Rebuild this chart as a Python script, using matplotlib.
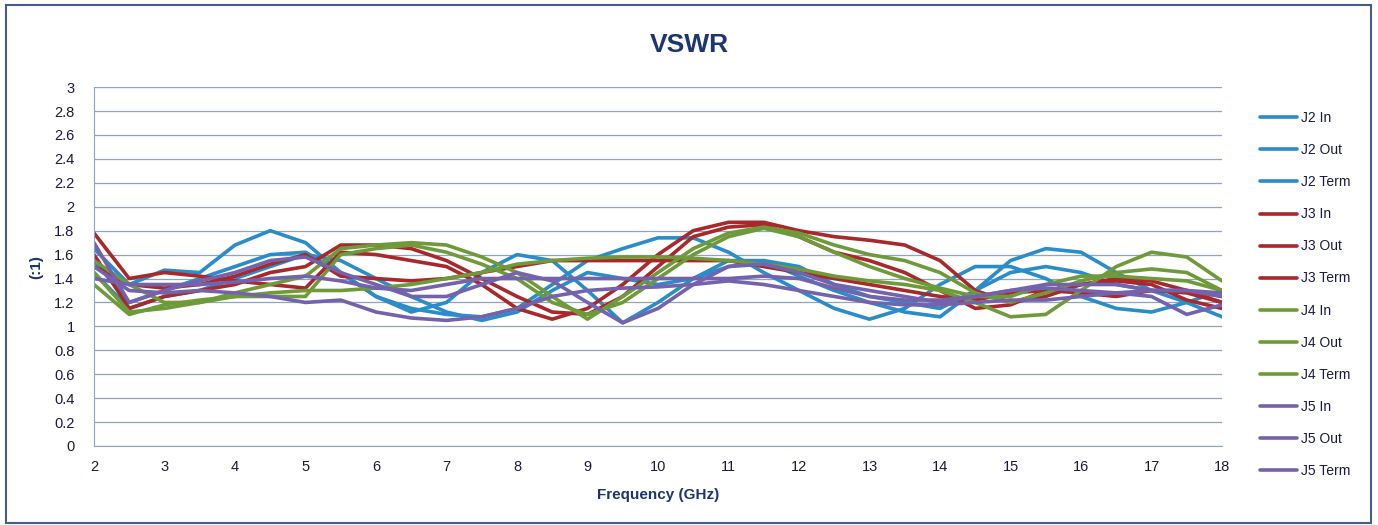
import numpy as np
import matplotlib
matplotlib.use("Agg")
import matplotlib.pyplot as plt
from matplotlib.patches import Rectangle

plt.rcParams['font.family'] = ['Liberation Sans', 'DejaVu Sans']

# frequency grid (GHz)
freq = np.arange(2.0, 18.01, 0.5)

# VSWR, one value per 0.5 GHz
j2_in = [1.65, 1.35, 1.47, 1.45, 1.68, 1.80, 1.70, 1.45, 1.25, 1.15, 1.10, 1.08, 1.15, 1.35, 1.55, 1.65,
         1.74, 1.74, 1.62, 1.45, 1.30, 1.15, 1.06, 1.15, 1.35, 1.50, 1.50, 1.40, 1.25, 1.15, 1.12, 1.20, 1.30]
j2_out = [1.55, 1.20, 1.30, 1.40, 1.50, 1.60, 1.62, 1.45, 1.25, 1.12, 1.20, 1.45, 1.60, 1.55, 1.30, 1.03,
          1.20, 1.40, 1.55, 1.55, 1.42, 1.30, 1.20, 1.12, 1.08, 1.30, 1.55, 1.65, 1.62, 1.45, 1.30, 1.20, 1.08]
j2_term = [1.45, 1.15, 1.25, 1.30, 1.40, 1.50, 1.60, 1.55, 1.40, 1.25, 1.12, 1.05, 1.12, 1.30, 1.45, 1.40,
           1.35, 1.40, 1.50, 1.55, 1.50, 1.35, 1.25, 1.20, 1.15, 1.30, 1.45, 1.50, 1.45, 1.35, 1.30, 1.30, 1.25]
j3_in = [1.78, 1.40, 1.45, 1.42, 1.38, 1.35, 1.32, 1.62, 1.60, 1.55, 1.50, 1.35, 1.15, 1.06, 1.15, 1.35,
         1.60, 1.80, 1.87, 1.87, 1.80, 1.75, 1.72, 1.68, 1.55, 1.30, 1.20, 1.25, 1.35, 1.40, 1.38, 1.30, 1.20]
j3_out = [1.60, 1.15, 1.25, 1.30, 1.35, 1.45, 1.50, 1.68, 1.68, 1.65, 1.55, 1.40, 1.25, 1.12, 1.10, 1.25,
          1.50, 1.75, 1.83, 1.85, 1.75, 1.62, 1.55, 1.45, 1.30, 1.15, 1.18, 1.30, 1.35, 1.38, 1.35, 1.22, 1.15]
j3_term = [1.50, 1.35, 1.32, 1.35, 1.42, 1.52, 1.60, 1.42, 1.40, 1.38, 1.40, 1.45, 1.50, 1.55, 1.55, 1.55,
           1.55, 1.55, 1.55, 1.50, 1.45, 1.40, 1.35, 1.30, 1.25, 1.22, 1.28, 1.30, 1.28, 1.25, 1.30, 1.28, 1.20]
j4_in = [1.35, 1.10, 1.18, 1.22, 1.25, 1.28, 1.30, 1.30, 1.32, 1.35, 1.40, 1.45, 1.52, 1.55, 1.57, 1.58,
         1.58, 1.57, 1.55, 1.52, 1.48, 1.42, 1.38, 1.35, 1.30, 1.20, 1.08, 1.10, 1.30, 1.50, 1.62, 1.58, 1.38]
j4_out = [1.55, 1.35, 1.20, 1.20, 1.28, 1.35, 1.42, 1.65, 1.68, 1.70, 1.68, 1.58, 1.45, 1.25, 1.06, 1.25,
          1.45, 1.65, 1.78, 1.83, 1.78, 1.68, 1.60, 1.55, 1.45, 1.28, 1.20, 1.28, 1.38, 1.45, 1.48, 1.45, 1.30]
j4_term = [1.45, 1.12, 1.15, 1.20, 1.25, 1.25, 1.25, 1.60, 1.65, 1.68, 1.62, 1.52, 1.40, 1.20, 1.10, 1.20,
           1.40, 1.60, 1.75, 1.82, 1.75, 1.62, 1.50, 1.40, 1.32, 1.25, 1.25, 1.35, 1.42, 1.42, 1.40, 1.38, 1.30]
j5_in = [1.50, 1.30, 1.28, 1.30, 1.28, 1.25, 1.20, 1.22, 1.12, 1.07, 1.05, 1.08, 1.15, 1.25, 1.30, 1.32,
         1.33, 1.35, 1.38, 1.35, 1.30, 1.25, 1.20, 1.18, 1.18, 1.20, 1.22, 1.22, 1.25, 1.28, 1.30, 1.30, 1.28]
j5_out = [1.70, 1.20, 1.30, 1.38, 1.45, 1.55, 1.58, 1.45, 1.35, 1.25, 1.25, 1.35, 1.45, 1.38, 1.20, 1.03,
          1.15, 1.35, 1.50, 1.52, 1.45, 1.35, 1.30, 1.25, 1.20, 1.25, 1.30, 1.32, 1.30, 1.28, 1.25, 1.10, 1.18]
j5_term = [1.40, 1.35, 1.35, 1.35, 1.37, 1.40, 1.42, 1.38, 1.32, 1.30, 1.35, 1.40, 1.40, 1.40, 1.40, 1.40,
           1.40, 1.40, 1.40, 1.42, 1.40, 1.32, 1.25, 1.22, 1.22, 1.25, 1.30, 1.35, 1.35, 1.35, 1.30, 1.30, 1.25]

series = [
    ("J2 In", j2_in), ("J2 Out", j2_out), ("J2 Term", j2_term),
    ("J3 In", j3_in), ("J3 Out", j3_out), ("J3 Term", j3_term),
    ("J4 In", j4_in), ("J4 Out", j4_out), ("J4 Term", j4_term),
    ("J5 In", j5_in), ("J5 Out", j5_out), ("J5 Term", j5_term),
]
colors = ["#2a8cc8"] * 3 + ["#a8282c"] * 3 + ["#6f9a3a"] * 3 + ["#7462ad"] * 3

navy = "#1d3570"

fig = plt.figure(figsize=(13.78, 5.25), dpi=100)
fig.patch.set_facecolor("white")
# outer chart frame
fig.patches.append(Rectangle((0.004, 0.004), 0.991, 0.986, transform=fig.transFigure,
                             fill=False, edgecolor="#4a5a8a", lw=1.5))

ax = fig.add_axes([0.0682, 0.1505, 0.8186, 0.6835])

for (name, vals), c in zip(series, colors):
    ax.plot(freq, vals, color=c, lw=2.6, label=name, solid_capstyle="round",
            solid_joinstyle="round")

ax.set_xlim(2, 18)
ax.set_ylim(0, 3)
ax.set_xticks(np.arange(2, 19, 1))
ax.set_yticks(np.arange(0, 3.01, 0.2))
ax.set_yticklabels([f"{v:g}" for v in np.round(np.arange(0, 3.01, 0.2), 1)])
ax.grid(axis="y", color="#8fa4bf", lw=0.9)
ax.set_axisbelow(True)
for s in ["top", "right"]:
    ax.spines[s].set_visible(False)
ax.spines["left"].set_color("#8fa4bf")
ax.spines["bottom"].set_color("#8fa4bf")
ax.tick_params(axis="both", length=0, labelsize=10.5, colors="#1a1a40", pad=10)
ax.tick_params(axis="y", pad=14)

ax.set_xlabel("Frequency (GHz)", fontsize=11, fontweight="bold", color=navy, labelpad=10)
ax.set_ylabel("(:1)", fontsize=11, fontweight="bold", color=navy, labelpad=8)
fig.text(0.5, 0.915, "VSWR", ha="center", va="center", fontsize=19, fontweight="bold", color=navy)

fig.legend(loc="upper left", bbox_to_anchor=(0.905, 0.812), frameon=False, fontsize=10,
           handlelength=2.7, labelspacing=1.3, handletextpad=0.3, labelcolor="#1a1a40")

fig.savefig("out.png", dpi=100)
